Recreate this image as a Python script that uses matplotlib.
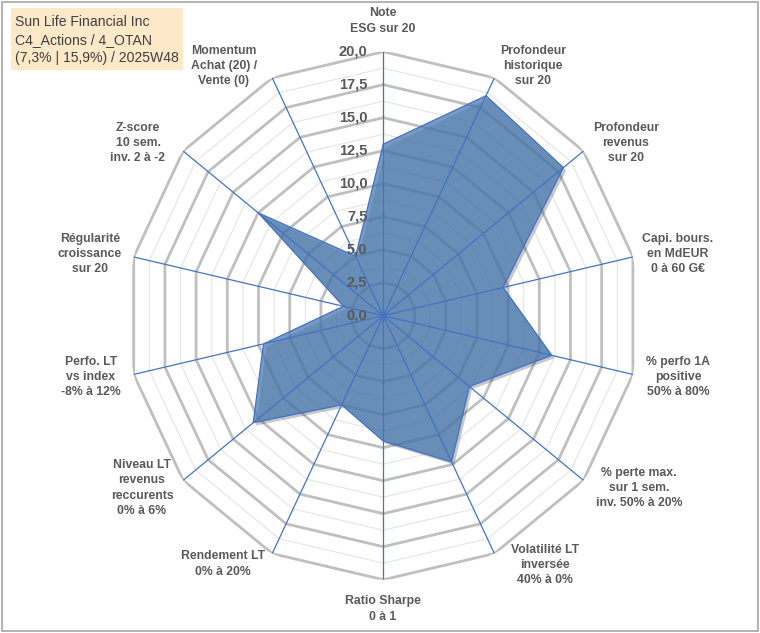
import numpy as np
import matplotlib
matplotlib.use('Agg')
import matplotlib.pyplot as plt
import matplotlib.patheffects as pe
from matplotlib.transforms import offset_copy
from matplotlib.patches import Rectangle

# axes du radar (sens horaire depuis le haut)
criteres = ['Note\nESG sur 20',
            'Profondeur\nhistorique\nsur 20',
            'Profondeur\nrevenus\nsur 20',
            'Capi. bours.\nen MdEUR\n0 à 60 G€',
            '% perfo 1A\npositive\n50% à 80%',
            '% perte max.\nsur 1 sem.\ninv. 50% à 20%',
            'Volatilité LT\ninversée\n40% à 0%',
            'Ratio Sharpe\n0 à 1',
            'Rendement LT\n0% à 20%',
            'Niveau LT\nrevenus\nreccurents\n0% à 6%',
            'Perfo. LT\nvs index\n-8% à 12%',
            'Régularité\ncroissance\nsur 20',
            'Z-score\n10 sem.\ninv. 2 à -2',
            'Momentum\nAchat (20) /\nVente (0)']
notes = [13.0, 18.5, 18.0, 9.6, 13.5, 8.6, 12.3, 9.5, 7.5, 13.0, 9.6, 3.2, 12.5, 5.0]
graduations = [0.0, 2.5, 5.0, 7.5, 10.0, 12.5, 15.0, 17.5, 20.0]
titre = 'Sun Life Financial Inc\nC4_Actions / 4_OTAN\n(7,3% | 15,9%) / 2025W48'

# centres des etiquettes en pixels
pos_etiq = [(383, 21), (533, 66), (626, 143), (678, 254), (678, 377),
            (639, 488), (545, 565), (383, 609), (223, 564), (142, 488),
            (91, 377), (90, 254), (138, 143), (224, 66)]

W, H = 760, 633
fig = plt.figure(figsize=(W / 100, H / 100), dpi=100)
fig.patch.set_facecolor('white')

ax = fig.add_axes([127.3 / W, (H - 579.7) / H, 512 / W, 528 / H], projection='polar')
ax.set_aspect('auto')
ax.set_theta_zero_location('N')
ax.set_theta_direction(-1)
ax.set_ylim(0, 20)
ax.grid(False)
ax.spines['polar'].set_visible(False)
ax.set_xticks([])
ax.set_yticks([])
ax.patch.set_alpha(0)

n = len(criteres)
angles = np.linspace(0, 2 * np.pi, n, endpoint=False)
ang_f = np.append(angles, angles[0])

# grille polygonale: mineure puis majeure
for g in np.arange(1.25, 20, 2.5):
    ax.plot(ang_f, [g] * (n + 1), color='#e4e4e4', lw=0.8, zorder=1)
for g in graduations[1:]:
    ax.plot(ang_f, [g] * (n + 1), color='#bfbfbf', lw=2.0, zorder=2)

# serie
val_f = notes + notes[:1]
poly = ax.fill(ang_f, val_f, color='#4a7ab0', alpha=0.75, zorder=3, lw=0)[0]
poly.set_path_effects([pe.SimplePatchShadow(offset=(2, -2), alpha=0.25), pe.Normal()])
ax.plot(ang_f, val_f, color='#4472c4', lw=0.9, zorder=4)

# rayons
for a in angles:
    ax.plot([a, a], [0, 20], color='#4472c4', lw=0.9, zorder=5)

# graduations le long de l'axe vertical
tr = offset_copy(ax.transData, fig=fig, x=-16, y=0, units='dots')
for g in graduations:
    ax.text(0, g, f'{g:.1f}'.replace('.', ','), transform=tr, ha='right', va='center',
            fontsize=10.5, fontweight='bold', color='#595959', family='Liberation Sans', zorder=6)

# etiquettes des criteres
for txt, (px, py) in zip(criteres, pos_etiq):
    fig.text(px / W, 1 - py / H, txt, ha='center', va='center', fontsize=8.8,
             fontweight='bold', color='#595959', family='Liberation Sans', linespacing=1.38)

# cartouche titre
fig.patches.append(Rectangle((11 / W, 1 - 70 / H), 172 / W, 62 / H, transform=fig.transFigure,
                             facecolor='#fde9c8', edgecolor='none', zorder=0))
fig.text(15 / W, 1 - 40 / H, titre, ha='left', va='center', fontsize=10.1,
         color='#404040', family='Liberation Sans', linespacing=1.32)

# cadre
fig.patches.append(Rectangle((2 / W, 2 / H), (W - 4) / W, (H - 4) / H, transform=fig.transFigure,
                             facecolor='none', edgecolor='#a6a6a6', lw=1.2))

fig.savefig('out.png', dpi=100)
